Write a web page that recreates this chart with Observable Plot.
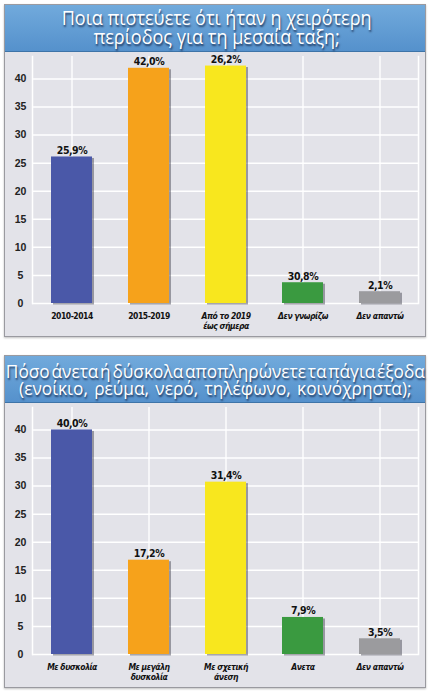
<!DOCTYPE html>
<html><head><meta charset="utf-8">
<script src="https://cdn.jsdelivr.net/npm/d3@7"></script>
<script src="https://cdn.jsdelivr.net/npm/@observablehq/plot@0.6"></script>
<style>
body{margin:0;background:#fff;width:430px;height:695px;position:relative;overflow:hidden;font-family:"Open Sans",sans-serif}
.panel{position:absolute;left:4px;width:420px;border:1px solid #9a9aa0;background:#e3e3e9;box-shadow:0 1px 2px rgba(0,0,0,0.25)}
.band{position:relative;height:46px;background:linear-gradient(#71aadc,#5591cc);border-bottom:1px solid #3e74a8;overflow:visible}
.tline{position:absolute;white-space:pre;text-align:center;color:#fff;text-shadow:1px 2px 2px rgba(10,20,50,0.7);transform-origin:center center;font-family:"Open Sans",sans-serif;font-weight:400}
.panel svg{display:block}
.panel svg g[aria-label="x-axis tick label"] text{letter-spacing:-0.45px}
.panel svg g[aria-label="text"] text{letter-spacing:-0.5px}
</style></head><body>
<div id="p1" class="panel" style="top:4px"><div class="band" id="b1"></div></div>
<div id="p2" class="panel" style="top:355px"><div class="band" id="b2"></div></div>
<script>
// ---- data ----
const title1 = ["Ποια πιστεύετε ότι ήταν η χειρότερη", "περίοδος για τη μεσαία ταξη;"];
const categories1 = ["2010-2014", "2015-2019", "Από το 2019\nέως σήμερα", "Δεν γνωρίζω", "Δεν απαντώ"];
const barHeights1 = [26.1, 41.9, 42.3, 3.7, 2.1];
const valueLabels1 = ["25,9%", "42,0%", "26,2%", "30,8%", "2,1%"];

const title2 = ["Πόσο άνετα ή δύσκολα αποπληρώνετε τα πάγια έξοδα", "(ενοίκιο, ρεύμα, νερό, τηλέφωνο, κοινόχρηστα);"];
const categories2 = ["Με δυσκολία", "Με μεγάλη\nδυσκολία", "Με σχετική\nάνεση", "Ανετα", "Δεν απαντώ"];
const barHeights2 = [40.0, 16.8, 30.7, 6.6, 2.8];
const valueLabels2 = ["40,0%", "17,2%", "31,4%", "7,9%", "3,5%"];

const barColors = ["#4a58a8", "#f6a21b", "#f8e71e", "#3a9a40", "#9b9b9e"];
const yTicks = [0, 5, 10, 15, 20, 25, 30, 35, 40];

// ---- titles (one text block per title) ----
function measure(txt, fs) {
  const m = document.createElement("span");
  m.className = "tline";
  m.style.fontSize = fs + "px";
  m.textContent = txt;
  document.body.appendChild(m);
  const w = m.getBoundingClientRect().width;
  m.remove();
  return w;
}
function addTitle(bandId, lines, s) {
  const band = document.getElementById(bandId);
  const l1 = s.thin ? lines[0].replace(/ /g, "\u200A") : lines[0];
  const l2 = lines[1];
  const w1 = measure(l1, s.fs), w2 = measure(l2, s.fs);
  const scale = s.w1 / w1;
  let ws = 0;
  if (s.fit2) {
    const nSp = (l2.match(/ /g) || []).length;
    ws = Math.max(-2, Math.min(2, (s.w2 / scale - w2) / nSp));
  }
  const el = document.createElement("div");
  el.className = "tline";
  el.textContent = l1 + "\n" + l2;
  el.style.fontSize = s.fs + "px";
  el.style.lineHeight = s.lh + "px";
  el.style.wordSpacing = ws + "px";
  band.appendChild(el);
  const r = el.getBoundingClientRect();
  el.style.left = (s.cx - r.width / 2) + "px";
  el.style.top = (s.cy - r.height / 2) + "px";
  el.style.transform = `scaleX(${scale})`;
}
addTitle("b1", title1, {fs: 20, lh: 18.5, cx: 212, cy: 22.5, w1: 310});
addTitle("b2", title2, {fs: 19, lh: 17, cx: 210.5, cy: 24, w1: 419, w2: 411, thin: true, fit2: true});

// ---- charts ----
const greek = /[\u0370-\u03FF\u1F00-\u1FFF]/;
const narrow = `"Liberation Sans Narrow","DejaVu Sans Condensed","Arial Narrow",sans-serif`;

function chart(cats, heights, labels) {
  const data = cats.map((c, i) => ({cat: c, h: heights[i], label: labels[i], color: barColors[i]}));
  const upright = cats.filter(c => !greek.test(c));
  const ital = cats.filter(c => greek.test(c));
  const xAxisOpts = {tickSize: 0, tickPadding: 9, fontWeight: "bold", fontSize: 8.5, lineHeight: 1.15, fill: "#111", fontFamily: narrow, label: null};
  return Plot.plot({
    width: 420, height: 284,
    marginLeft: 27, marginRight: 7, marginTop: 4, marginBottom: 33,
    style: {background: "transparent", fontFamily: `"Liberation Sans",sans-serif`, overflow: "visible"},
    x: {domain: cats, paddingInner: 0.47, paddingOuter: 0.235, axis: null},
    y: {domain: [0, 44], axis: null},
    marks: [
      Plot.gridY(yTicks, {stroke: "#fff", strokeOpacity: 1, strokeWidth: 1.5}),
      Plot.ruleX(cats, {x: d => d, stroke: "#fff", strokeOpacity: 0.9, strokeWidth: 1.5}),
      Plot.frame({stroke: "#fff", strokeWidth: 1.5, anchor: "left"}),
      Plot.frame({stroke: "#fff", strokeWidth: 1.5, anchor: "right"}),
      Plot.barY(data, {x: "cat", y: "h", fill: "#3a3a48", fillOpacity: 0.45, dx: 2, dy: 1.5}),
      Plot.barY(data, {x: "cat", y: "h", fill: "color"}),
      Plot.text(data, {x: "cat", y: "h", text: "label", dy: -3, lineAnchor: "bottom", fontWeight: "bold", fontSize: 10.5, fill: "#111", fontFamily: narrow}),
      Plot.axisY(yTicks, {tickSize: 0, tickPadding: 12, textAnchor: "middle", fontWeight: "bold", fontSize: 10.5, fill: "#222", label: null}),
      Plot.axisX(upright, xAxisOpts),
      Plot.axisX(ital, {...xAxisOpts, fontStyle: "italic"})
    ]
  });
}

document.getElementById("p1").appendChild(chart(categories1, barHeights1, valueLabels1));
document.getElementById("p2").appendChild(chart(categories2, barHeights2, valueLabels2));
</script>
</body></html>
